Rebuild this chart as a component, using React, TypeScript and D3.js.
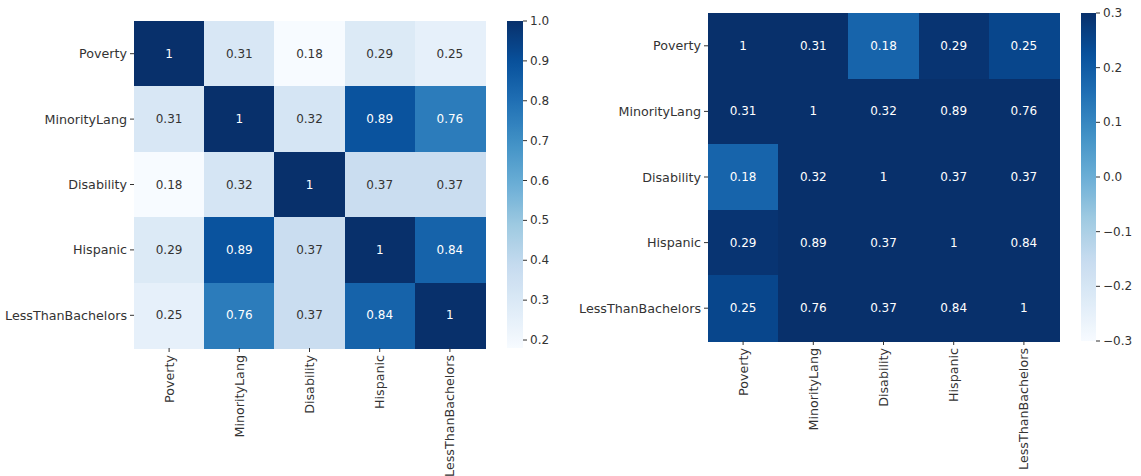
import React from "react";
import * as d3 from "d3";

const labels = ["Poverty", "MinorityLang", "Disability", "Hispanic", "LessThanBachelors"];
const corr: number[][] = [
  [1, 0.31, 0.18, 0.29, 0.25],
  [0.31, 1, 0.32, 0.89, 0.76],
  [0.18, 0.32, 1, 0.37, 0.37],
  [0.29, 0.89, 0.37, 1, 0.84],
  [0.25, 0.76, 0.37, 0.84, 1],
];
const leftTicks = [0.2, 0.3, 0.4, 0.5, 0.6, 0.7, 0.8, 0.9, 1.0];
const rightTicks = [-0.3, -0.2, -0.1, 0.0, 0.1, 0.2, 0.3];
const bluesStops = ["#f7fbff", "#deebf7", "#c6dbef", "#9ecae1", "#6baed6", "#4292c6", "#2171b5", "#08519c", "#08306b"];

const FONT = "DejaVu Sans";
const TXT = "#333333";

const bluesScale = d3
  .scaleLinear<string>()
  .domain(d3.range(9).map((i) => i / 8))
  .range(bluesStops)
  .interpolate(d3.interpolateRgb)
  .clamp(true);
const blues = (t: number) => bluesScale(t);

function lum(c: string) {
  const rgb = d3.rgb(c);
  const f = (v: number) => {
    const x = v / 255;
    return x <= 0.03928 ? x / 12.92 : Math.pow((x + 0.055) / 1.055, 2.4);
  };
  return 0.2126 * f(rgb.r) + 0.7152 * f(rgb.g) + 0.0722 * f(rgb.b);
}

const fmtAnnot = (v: number) => (v === 1 ? "1" : String(v));
const fmtTick = (v: number) => d3.format(".1f")(v).replace("-", "\u2212");

type PanelProps = {
  id: string;
  x0: number;
  y0: number;
  w: number;
  h: number;
  vmin: number;
  vmax: number;
  cbX: number;
  cbW: number;
  ticks: number[];
};

function Panel({ id, x0, y0, w, h, vmin, vmax, cbX, cbW, ticks }: PanelProps) {
  const xs = d3.scaleBand<string>().domain(labels).range([x0, x0 + w]);
  const ys = d3.scaleBand<string>().domain(labels).range([y0, y0 + h]);
  const norm = d3.scaleLinear().domain([vmin, vmax]).range([0, 1]).clamp(true);
  const color = (v: number) => blues(norm(v));
  const cbY = d3.scaleLinear().domain([vmin, vmax]).range([y0 + h, y0]);
  const gradStops = d3.range(0, 1.0001, 0.02);
  return (
    <g>
      <defs>
        <linearGradient id={id} x1="0" y1="1" x2="0" y2="0">
          {gradStops.map((t, i) => (
            <stop key={i} offset={t} stopColor={blues(t)} />
          ))}
        </linearGradient>
      </defs>
      {corr.map((row, i) =>
        row.map((v, j) => (
          <rect
            key={`r${i}-${j}`}
            x={xs(labels[j])!}
            y={ys(labels[i])!}
            width={xs.bandwidth() + 1}
            height={ys.bandwidth() + 1}
            fill={color(v)}
            shapeRendering="crispEdges"
          />
        ))
      )}
      {corr.map((row, i) =>
        row.map((v, j) => {
          const c = color(v);
          const tc = lum(c) < 0.408 ? "#ffffff" : TXT;
          return (
            <text
              key={`t${i}-${j}`}
              x={xs(labels[j])! + xs.bandwidth() / 2}
              y={ys(labels[i])! + ys.bandwidth() / 2}
              textAnchor="middle"
              dominantBaseline="central"
              fontFamily={FONT}
              fontSize={12}
              fill={tc}
            >
              {fmtAnnot(v)}
            </text>
          );
        })
      )}
      {labels.map((l) => {
        const cy = ys(l)! + ys.bandwidth() / 2;
        return (
          <g key={"y" + l}>
            <line x1={x0 - 4} x2={x0} y1={cy} y2={cy} stroke={TXT} strokeWidth={1} />
            <text
              x={x0 - 7}
              y={cy}
              textAnchor="end"
              dominantBaseline="central"
              fontFamily={FONT}
              fontSize={12.7}
              fill={TXT}
            >
              {l}
            </text>
          </g>
        );
      })}
      {labels.map((l) => {
        const cx = xs(l)! + xs.bandwidth() / 2;
        const yb = y0 + h;
        return (
          <g key={"x" + l}>
            <line x1={cx} x2={cx} y1={yb} y2={yb + 4} stroke={TXT} strokeWidth={1} />
            <text
              transform={`translate(${cx},${yb + 7}) rotate(-90)`}
              textAnchor="end"
              dominantBaseline="central"
              fontFamily={FONT}
              fontSize={12.7}
              fill={TXT}
            >
              {l}
            </text>
          </g>
        );
      })}
      <rect x={cbX} y={y0} width={cbW} height={h} fill={`url(#${id})`} />
      {ticks.map((t) => (
        <g key={"t" + t}>
          <line x1={cbX + cbW} x2={cbX + cbW + 4} y1={cbY(t)} y2={cbY(t)} stroke={TXT} strokeWidth={1} />
          <text
            x={cbX + cbW + 7}
            y={cbY(t)}
            dominantBaseline="central"
            fontFamily={FONT}
            fontSize={12}
            fill={TXT}
          >
            {fmtTick(t)}
          </text>
        </g>
      ))}
    </g>
  );
}

export default function App() {
  const all = corr.flat();
  const minV = d3.min(all)!;
  const maxV = d3.max(all)!;
  return (
    <svg
      width={1141}
      height={476}
      style={{ position: "absolute", left: 0, top: 0, background: "#ffffff" }}
    >
      <rect width={1141} height={476} fill="#ffffff" />
      <Panel
        id="gradL"
        x0={134}
        y0={21}
        w={351}
        h={327}
        vmin={minV}
        vmax={maxV}
        cbX={507}
        cbW={16}
        ticks={leftTicks}
      />
      <Panel
        id="gradR"
        x0={708}
        y0={13}
        w={351}
        h={328}
        vmin={-0.3}
        vmax={0.3}
        cbX={1081}
        cbW={15}
        ticks={rightTicks}
      />
    </svg>
  );
}
